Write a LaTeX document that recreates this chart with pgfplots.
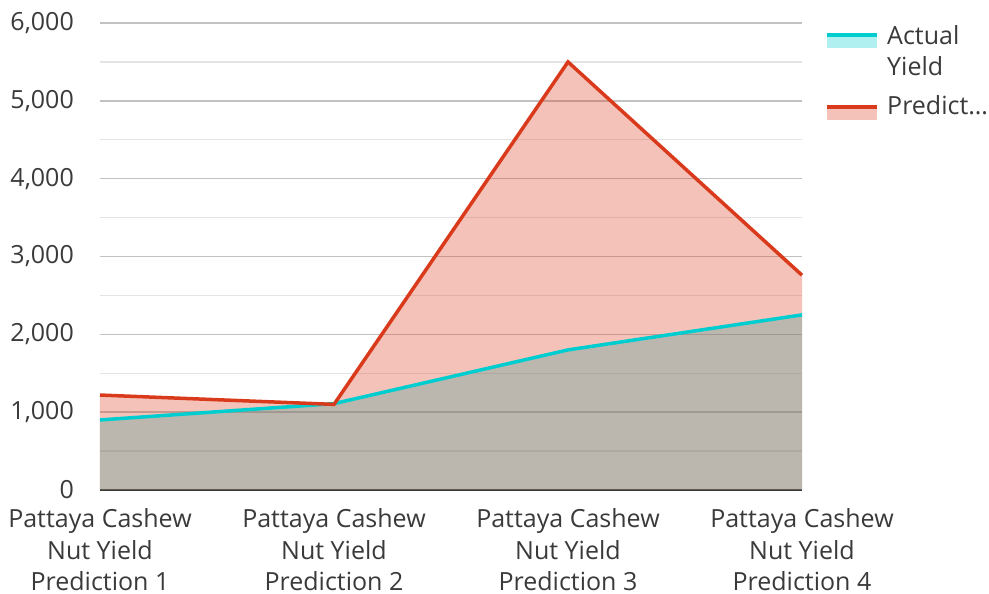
\documentclass[border=0pt]{standalone}
\usepackage{pgfplots}
\pgfplotsset{compat=1.18}
\usepackage{fontspec}
\setmainfont{Open Sans}
\definecolor{actcol}{HTML}{00CDCF}
\definecolor{predcol}{HTML}{DA3A1C}
\definecolor{txt}{HTML}{3A3A3A}
\definecolor{majgrid}{HTML}{C2C2C2}
\definecolor{mingrid}{HTML}{E4E4E4}

\begin{document}
\begin{tikzpicture}
\useasboundingbox (-100pt,-104pt) rectangle (889pt,490pt);
\begin{axis}[
    at={(0,0)}, anchor=south west,
    scale only axis,
    width=702pt, height=467pt,
    xmin=0, xmax=3,
    ymin=0, ymax=6000,
    xtick={0,1,2,3},
    xticklabels={{Pattaya Cashew\\Nut Yield\\Prediction 1},
                 {Pattaya Cashew\\Nut Yield\\Prediction 2},
                 {Pattaya Cashew\\Nut Yield\\Prediction 3},
                 {Pattaya Cashew\\Nut Yield\\Prediction 4}},
    xticklabel style={align=center, font=\fontsize{25}{31.5}\selectfont, text=txt, inner sep=0pt, yshift=-18.5pt},
    ytick={0,1000,...,6000},
    minor y tick num=1,
    yticklabel style={font=\fontsize{25}{30}\selectfont, text=txt, inner sep=0pt, xshift=-26pt},
    /pgf/number format/.cd, 1000 sep={,}, assume math mode=true, /pgfplots/.cd,
    major tick length=0pt, minor tick length=0pt,
    ymajorgrids, yminorgrids,
    major grid style={majgrid, line width=1.4pt},
    minor grid style={mingrid, line width=1.4pt},
    axis x line*=bottom, axis y line*=left,
    x axis line style={draw=txt, line width=1.8pt},
    y axis line style={draw=none},
    clip=false,
]
\addplot[draw=none, fill=actcol, fill opacity=0.31]
  coordinates {(0,900) (1,1110) (2,1800) (3,2250)} \closedcycle;
\addplot[draw=none, fill=predcol, fill opacity=0.31]
  coordinates {(0,1220) (1,1100) (2,5500) (3,2760)} \closedcycle;
\addplot[actcol, line width=3.5pt] coordinates {(0,900) (1,1110) (2,1800) (3,2250)};
\addplot[predcol, line width=3.5pt] coordinates {(0,1220) (1,1100) (2,5500) (3,2760)};
\end{axis}
% legend
\fill[actcol, fill opacity=0.31] (727pt,442.3pt) rectangle (777pt,453.3pt);
\draw[actcol, line width=3.5pt] (727pt,455pt) -- (777pt,455pt);
\fill[predcol, fill opacity=0.31] (727pt,370.3pt) rectangle (777pt,381pt);
\draw[predcol, line width=3.5pt] (727pt,383pt) -- (777pt,383pt);
\begin{scope}[every node/.style={anchor=base west, inner sep=0pt, text=txt, font=\fontsize{25}{30}\selectfont}]
\node at (787pt,445pt) {Actual};
\node at (787pt,414.3pt) {Yield};
\node at (787pt,375.7pt) {Predict…};
\end{scope}
\end{tikzpicture}
\end{document}
